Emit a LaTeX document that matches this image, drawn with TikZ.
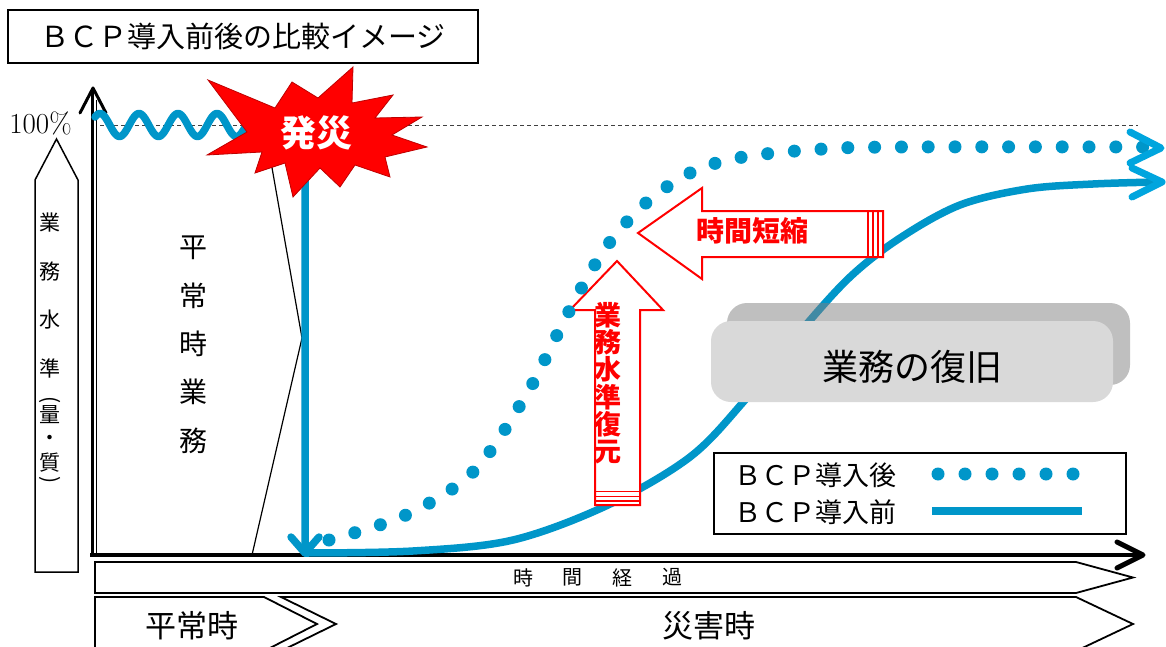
\documentclass[tikz,border=0pt]{standalone}
\usepackage{fontspec}
\newfontfamily\jp{Noto Sans CJK JP}
\definecolor{bcpblue}{RGB}{0,150,201}
\definecolor{tipblue}{RGB}{0,165,222}
\definecolor{frontgray}{RGB}{217,217,217}
\definecolor{shadowgray}{RGB}{128,128,128}
\definecolor{starred}{RGB}{255,0,0}
\definecolor{starline}{RGB}{190,0,0}
\begin{document}
\begin{tikzpicture}[x=1pt,y=-1pt,
  jp/.style={font=\jp\fontsize{#1}{#1}\selectfont, inner sep=0pt},
  jpb/.style={font=\jp\bfseries\fontsize{#1}{#1}\selectfont, inner sep=0pt},
  blueline/.style={draw=bcpblue, line width=7.5pt, line cap=round, line join=round},
  tipline/.style={draw=tipblue, line width=7pt, line cap=round, line join=round},
  redarrow/.style={draw=red, fill=white, line width=2pt},
  redstripe/.style={draw=red, line width=1.8pt},
  band/.style={draw=black, fill=white, line width=1.8pt},
  axisline/.style={draw=black, line width=4pt},
  dotcurve/.style={draw=bcpblue, line width=13pt, line cap=round, dash pattern=on 0pt off 26.8pt},
]
\useasboundingbox (0,0) rectangle (1166,647);
\fill[white] (0,0) rectangle (1166,647);

% title
\node[draw, line width=1.8pt, minimum width=470pt, minimum height=53pt, jp=29] (title) at (243,36.5) {ＢＣＰ導入前後の比較イメージ};

% 100% line
\draw[dash pattern=on 4pt off 3pt, line width=0.8pt, black!75] (100,125) -- (1138,125);
\node[font=\fontsize{29}{29}\selectfont, inner sep=0pt] (pct) at (40.5,123) {100\%};

% transition lines
\draw[line width=1.2pt] (268,145) -- (302,338) -- (252,555);

% axes
\draw[line width=3.5pt] (92.5,556) -- (92.5,89);
\draw[line width=1pt] (96.5,553) -- (96.5,100);
\draw[line width=3pt, line cap=round, line join=round] (80,113) -- (93,88) -- (106,113);
\draw[axisline] (90,555) -- (1141,555);
\draw[line width=5pt, line cap=round, line join=round] (1117,542) -- (1143,555) -- (1117,568);

% normal-time wave and drop
\draw[blueline] plot[domain=95:260, samples=140] (\x, {125-11.5*cos(9.2308*(\x-100))}) -- (305,150) -- (305,552);
\draw[blueline] (291,537) -- (305,553) -- (319,537);

% explosion
\filldraw[fill=starred, draw=starline, line width=0.8pt] (208,80) -- (275,108) -- (292,82) -- (318,98) -- (353,67) -- (352,103) -- (393,95) -- (375,118) -- (422,117) -- (392,135) -- (427,147) -- (385,157) -- (390,177) -- (355,165) -- (340,187) -- (320,168) -- (293,197) -- (285,163) -- (255,173) -- (262,152) -- (207,155) -- (247,132) -- cycle;
\node[jpb=36, text=white] (hassai) at (316,133) {発災};

% BCP before (solid)
\draw[blueline] plot[smooth, tension=0.55] coordinates {(305,553) (413,551) (513,540) (608,505) (690,457) (745,400) (800,332) (850,277) (900,238) (960,205) (1027,189) (1093,184) (1157,182)};
\draw[tipline] (1132,168) -- (1162,182) -- (1132,197);

% recovery box
\fill[shadowgray, opacity=0.5, rounded corners=20pt] (727,303) rectangle (1130,385);
\node[fill=frontgray, rounded corners=20pt, minimum width=402pt, minimum height=81pt, jp=36] (recov) at (912,361.5) {};
\node[jp=36] (recovtext) at (912,367) {業務の復旧};

% red arrows
\draw[redarrow] (595,505) -- (595,310) -- (570,310) -- (617,261) -- (663,310) -- (640,310) -- (640,505) -- cycle;
\draw[redstripe] (595,491.5) -- (640,491.5);
\draw[redstripe] (595,496.5) -- (640,496.5);
\draw[redstripe] (595,501) -- (640,501);
\foreach \c [count=\i] in {業,務,水,準,復,元}
  \node[jpb=27, text=red] (rv\i) at (608,{287.5+27.4*\i}) {\c};

\draw[redarrow] (883,211) -- (702,211) -- (702,188) -- (638,233) -- (702,279) -- (702,257) -- (883,257) -- cycle;
\draw[redstripe] (868,211) -- (868,257);
\draw[redstripe] (873,211) -- (873,257);
\draw[redstripe] (878,211) -- (878,257);
\node[jpb=28, text=red] (tanshuku) at (752,231) {時間短縮};

% BCP after (dotted)
\draw[dotcurve] plot[smooth, tension=0.55] coordinates {(329,540) (406,515) (473,472) (525,397) (557,335) (582,287) (610,242) (647,202) (692,172) (743,157) (823,149) (900,147) (1146,147)};
\draw[tipline] (1130,132) -- (1161,148) -- (1130,163);

% legend
\node[draw, line width=1.8pt, fill=white, minimum width=412pt, minimum height=81pt, inner sep=0pt] (legend) at (920,493.5) {};
\node[jp=27, anchor=west] (lg1) at (734,475) {ＢＣＰ導入後};
\node[jp=27, anchor=west] (lg2) at (734,512) {ＢＣＰ導入前};
\foreach \k in {0,...,5}
  \fill[bcpblue] ({938+27*\k},474) circle (6.5pt);
\draw[draw=bcpblue, line width=8pt] (932,511) -- (1082,511);

% y label arrow
\draw[line width=1.5pt, fill=white] (35,572) -- (35,180) -- (56.5,139) -- (78,180) -- (78,572) -- cycle;
\foreach \c/\yy [count=\i] in {業/223, 務/272, 水/320, 準/368, 量/415, ・/440, 質/463}
  \node[jp=21] (yl\i) at (50,\yy) {\c};
\node[jp=21, rotate=-90] (ylp1) at (50,400) {(};
\node[jp=21, rotate=-90] (ylp2) at (50,480) {)};

% normal-time work label
\foreach \c [count=\i] in {平,常,時,業,務}
  \node[jp=28] (hj\i) at (193,{199+48.3*\i}) {\c};

% time bands
\draw[band] (95,562) -- (1076,562) -- (1133,577.5) -- (1076,593) -- (95,593) -- cycle;
\foreach \c [count=\i] in {時,間,経,過}
  \node[jp=20] (te\i) at ({473.5+49.7*\i},577.5) {\c};
\draw[band] (281,597) -- (1076,597) -- (1133,624) -- (1076,651) -- (281,651) -- (336,624) -- cycle;
\draw[band] (95,597) -- (264,597) -- (317,624) -- (264,651) -- (95,651) -- cycle;
\node[jp=31] (heijo) at (192,626) {平常時};
\node[jp=31] (saigai) at (709,626) {災害時};
\end{tikzpicture}
\end{document}
